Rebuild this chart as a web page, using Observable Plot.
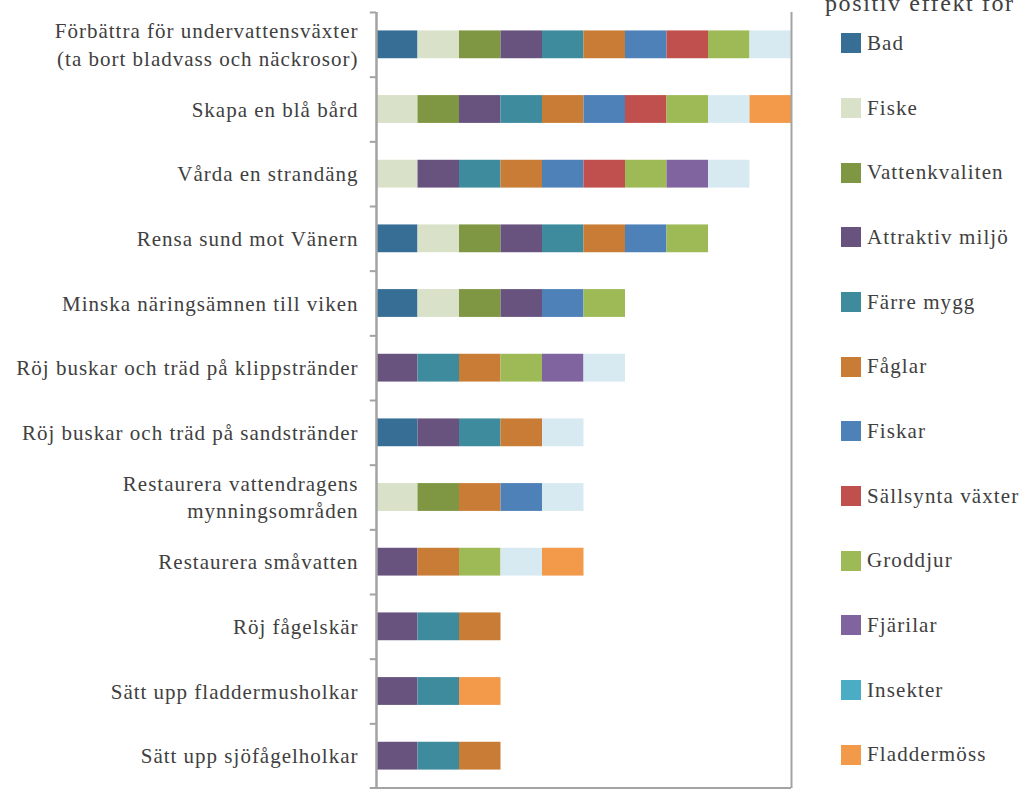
<!DOCTYPE html>
<html>
<head>
<meta charset="utf-8">
<script src="https://cdn.jsdelivr.net/npm/d3@7"></script>
<script src="https://cdn.jsdelivr.net/npm/@observablehq/plot@0.6"></script>
<style>
  html, body { margin: 0; padding: 0; background: #fff; }
  #wrap { position: relative; width: 1022px; height: 789px; overflow: hidden; font-family: "Liberation Serif", serif; }
  #legend-title { position: absolute; left: 825px; top: -10px; font-size: 24px; color: #404040; letter-spacing: 1.6px; white-space: nowrap; }
  .li { position: absolute; left: 841px; height: 20px; display: flex; align-items: center; font-size: 21px; color: #404040; letter-spacing: 1.1px; white-space: nowrap; }
  .li span.sw { display: inline-block; width: 20px; height: 20px; margin-right: 6px; flex: none; }
</style>
</head>
<body>
<div id="wrap"></div>
<script>
// Actions (top to bottom)
const actions = [
  "Förbättra för undervattensväxter\n(ta bort bladvass och näckrosor)",
  "Skapa en blå bård",
  "Vårda en strandäng",
  "Rensa sund mot Vänern",
  "Minska näringsämnen till viken",
  "Röj buskar och träd på klippstränder",
  "Röj buskar och träd på sandstränder",
  "Restaurera vattendragens\nmynningsområden",
  "Restaurera småvatten",
  "Röj fågelskär",
  "Sätt upp fladdermusholkar",
  "Sätt upp sjöfågelholkar"
];

// Effects (legend order)
const effects = ["Bad", "Fiske", "Vattenkvaliten", "Attraktiv miljö", "Färre mygg", "Fåglar",
  "Fiskar", "Sällsynta växter", "Groddjur", "Fjärilar", "Insekter", "Fladdermöss"];

// Colours used for bar segments and for legend swatches
const barColors = ["#376e96", "#d9e2c8", "#7f9642", "#68537f", "#3e8b9e", "#c97c35",
  "#4f81b9", "#c0504d", "#9dba57", "#8064a0", "#d8eaf1", "#f2994a"];
const legendColors = ["#376e96", "#d9e2c8", "#7f9642", "#68537f", "#3e8b9e", "#c97c35",
  "#4f81b9", "#c0504d", "#9dba57", "#8064a0", "#4bacc6", "#f2994a"];

// Positive effects for each action (one unit per effect)
const effectsByAction = [
  ["Bad", "Fiske", "Vattenkvaliten", "Attraktiv miljö", "Färre mygg", "Fåglar", "Fiskar", "Sällsynta växter", "Groddjur", "Insekter"],
  ["Fiske", "Vattenkvaliten", "Attraktiv miljö", "Färre mygg", "Fåglar", "Fiskar", "Sällsynta växter", "Groddjur", "Insekter", "Fladdermöss"],
  ["Fiske", "Attraktiv miljö", "Färre mygg", "Fåglar", "Fiskar", "Sällsynta växter", "Groddjur", "Fjärilar", "Insekter"],
  ["Bad", "Fiske", "Vattenkvaliten", "Attraktiv miljö", "Färre mygg", "Fåglar", "Fiskar", "Groddjur"],
  ["Bad", "Fiske", "Vattenkvaliten", "Attraktiv miljö", "Fiskar", "Groddjur"],
  ["Attraktiv miljö", "Färre mygg", "Fåglar", "Groddjur", "Fjärilar", "Insekter"],
  ["Bad", "Attraktiv miljö", "Färre mygg", "Fåglar", "Insekter"],
  ["Fiske", "Vattenkvaliten", "Fåglar", "Fiskar", "Insekter"],
  ["Attraktiv miljö", "Fåglar", "Groddjur", "Insekter", "Fladdermöss"],
  ["Attraktiv miljö", "Färre mygg", "Fåglar"],
  ["Attraktiv miljö", "Färre mygg", "Fladdermöss"],
  ["Attraktiv miljö", "Färre mygg", "Fåglar"]
];

const legendTitle = "positiv effekt för";
const xMax = 10;

const rows = actions.flatMap((a, i) => effectsByAction[i].map(e => ({action: a, effect: e, value: 1})));

const W = 1022, H = 789, mTop = 12, mBottom = 1, mLeft = 376, mRight = 231;
const step = (H - mTop - mBottom) / actions.length;
const axisColor = "#a3a3a3";

const chart = Plot.plot({
  width: W,
  height: H,
  marginTop: mTop,
  marginBottom: mBottom,
  marginLeft: mLeft,
  marginRight: mRight,
  style: {fontFamily: "Liberation Serif, serif", fontSize: "21px", letterSpacing: "1px", color: "#404040", background: "#fff"},
  x: {domain: [0, xMax], axis: null},
  y: {domain: actions, paddingInner: 0.57, paddingOuter: 0.285, round: false, label: null},
  color: {domain: effects, range: barColors},
  marks: [
    Plot.barX(rows, Plot.stackX({x: "value", y: "action", fill: "effect", order: effects, inset: 0})),
    Plot.axisY({tickSize: 0, tickPadding: 18, lineHeight: 1.3, fill: "#404040", dy: -1.5}),
    Plot.ruleY(actions, {y: d => d, x1: -0.15, x2: 0, dy: -step / 2, stroke: axisColor, strokeWidth: 2}),
    Plot.ruleY([actions[actions.length - 1]], {y: d => d, x1: -0.15, x2: xMax, dy: step / 2 - 0.5, stroke: axisColor, strokeWidth: 2}),
    Plot.ruleX([0], {stroke: axisColor, strokeWidth: 2.5}),
    Plot.ruleX([xMax], {stroke: axisColor, strokeWidth: 2})
  ]
});

const wrap = document.getElementById("wrap");
wrap.appendChild(chart);

const t = document.createElement("div");
t.id = "legend-title";
t.textContent = legendTitle;
wrap.appendChild(t);

effects.forEach((e, i) => {
  const d = document.createElement("div");
  d.className = "li";
  d.style.top = (mTop + step * (i + 0.5) - 11) + "px";
  const sw = document.createElement("span");
  sw.className = "sw";
  sw.style.background = legendColors[i];
  d.appendChild(sw);
  d.appendChild(document.createTextNode(e));
  wrap.appendChild(d);
});
</script>
</body>
</html>
